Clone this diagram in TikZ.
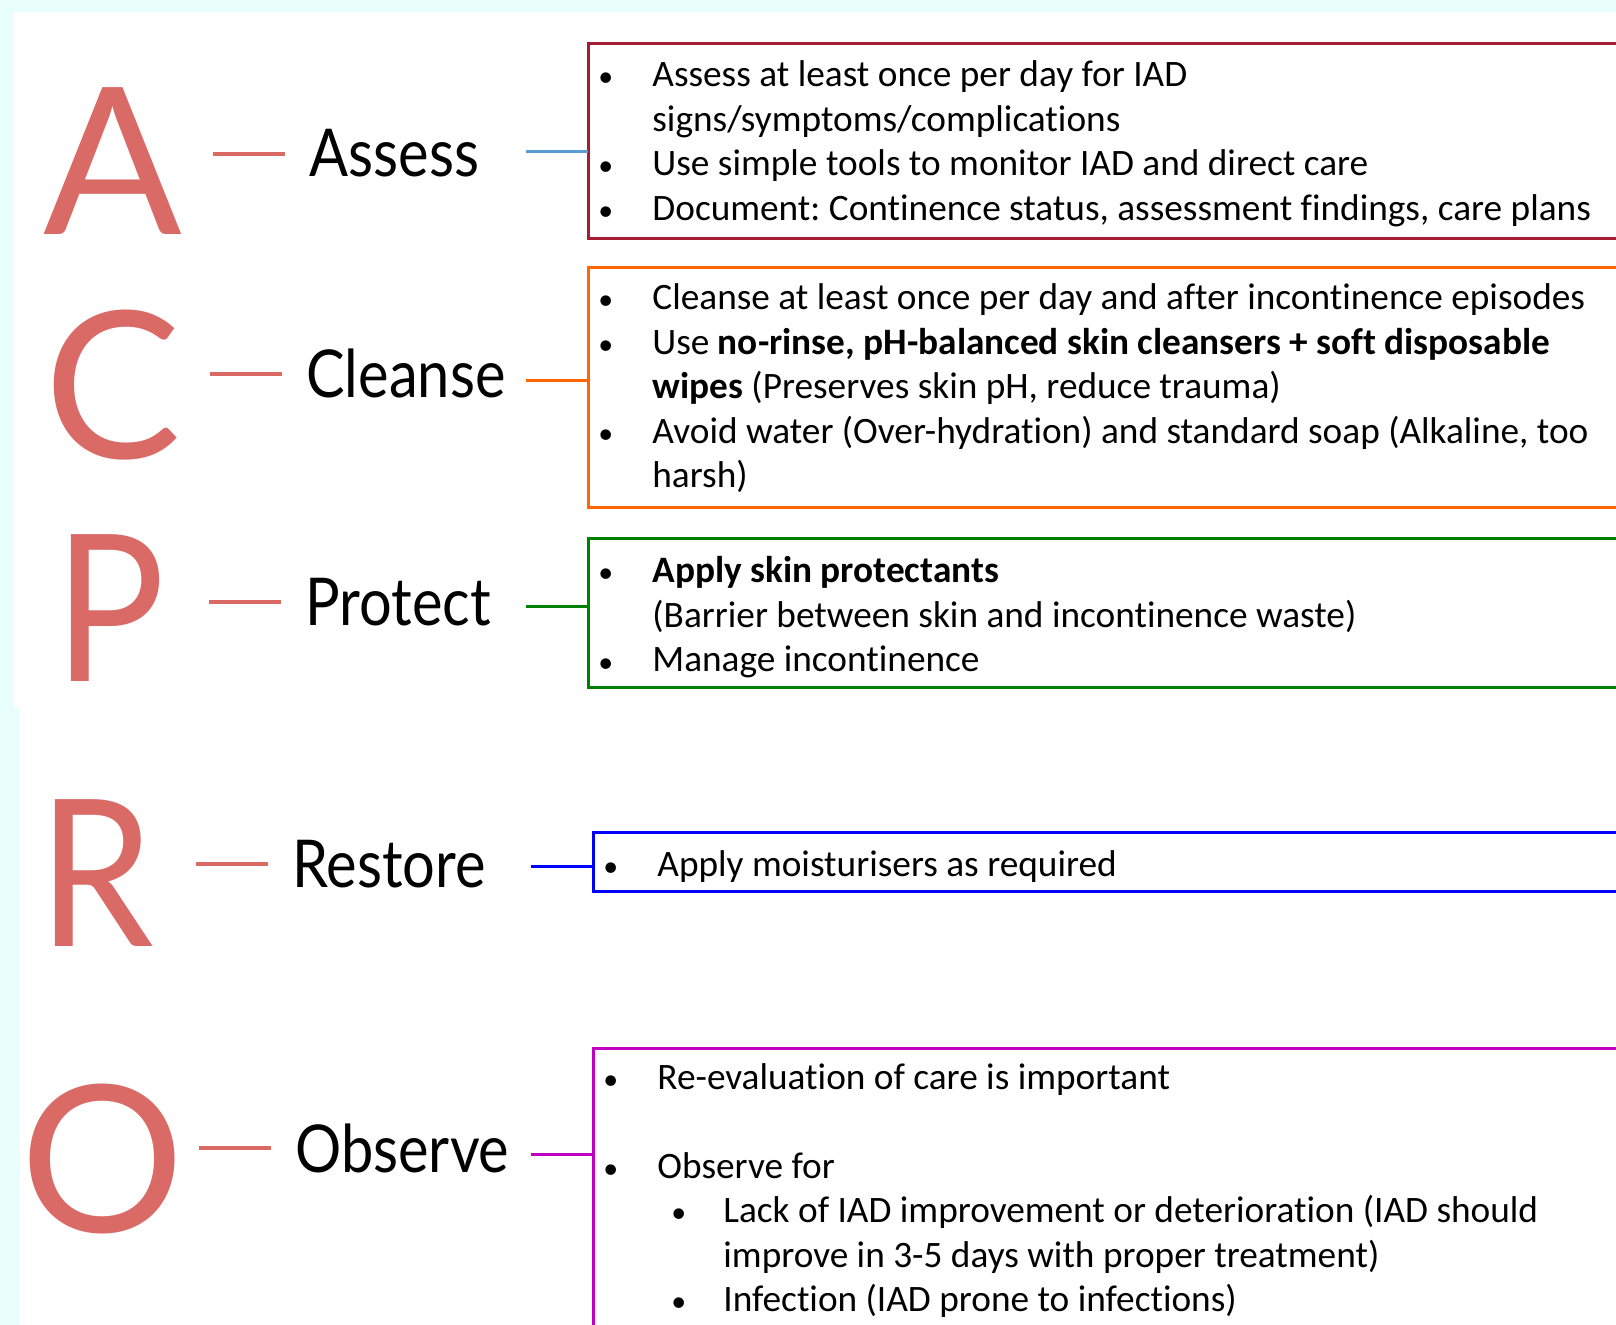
\documentclass[tikz,border=0pt]{standalone}
\usepackage{fontspec}
\setmainfont{Carlito}[Ligatures=NoCommon]
\newfontfamily\acrofont{Lato}[Ligatures=NoCommon]
\newfontfamily\acronarrow{Lato}[FakeStretch=0.9]
\newfontfamily\labelfont{Lato}[FakeStretch=0.875,Ligatures=NoCommon]
\usepackage{tikz}
\usetikzlibrary{calc,positioning}
\usepackage{xcolor}
\definecolor{PaleMint}{RGB}{233,255,252}
\definecolor{Salmon}{RGB}{217,106,101}
\definecolor{BoxCrimson}{RGB}{166,28,52}
\definecolor{BoxOrange}{RGB}{255,102,0}
\definecolor{BoxGreen}{RGB}{0,128,0}
\definecolor{BoxBlue}{RGB}{0,0,255}
\definecolor{BoxMagenta}{RGB}{192,0,192}
\definecolor{SkyLink}{RGB}{91,155,213}
\newcommand{\bul}{\makebox[32pt][l]{\hspace*{5pt}\scalebox{0.8}{\textbullet}}}
\newcommand{\ind}{\hspace*{32pt}}
\newcommand{\subbul}{\hspace*{39pt}\makebox[26pt][l]{\scalebox{0.8}{\textbullet}}}
\newcommand{\subind}{\hspace*{65pt}}
\frenchspacing

\begin{document}
\begin{tikzpicture}[x=0.5pt, y=-0.5pt,
  bigletter/.style={font=\acrofont\fontsize{102.5}{110}\selectfont, text=Salmon, inner sep=0pt, anchor=base},
  steplabel/.style={font=\labelfont\fontsize{33}{36}\selectfont, inner sep=0pt, anchor=base west},
  infobox/.style={draw=#1, line width=1.5pt, inner sep=0pt, outer sep=0pt, minimum width=560pt, anchor=north west},
  infotext/.style={font=\fontsize{18.65}{22.25}\selectfont, inner sep=0pt, anchor=base west},
  accent/.style={Salmon, line width=2pt},
  link/.style={line width=1.5pt}]
\useasboundingbox (0,0) rectangle (1616,1325);
\clip (0,0) rectangle (1616,1325);
% page background
\fill[PaleMint] (0,0) rectangle (1616,1325);
\fill[white] (14,12) -| (1616,1325) -| (20,707) -- (14,707) -- cycle;

% acronym letters
\node[bigletter] (letA) at (113,235) {A};
\node[bigletter] (letC) at (113,459) {C};
\node[bigletter, font=\acronarrow\fontsize{102.5}{110}\selectfont] (letP) at (110,682) {P};
\node[bigletter, font=\acronarrow\fontsize{102.5}{110}\selectfont] (letR) at (96,946) {R};
\node[bigletter] (letO) at (103,1232) {O};

% step names
\node[steplabel] (lblA) at (309,177) {Assess};
\node[steplabel] (lblC) at (306,398) {Cleanse};
\node[steplabel] (lblP) at (305,625) {Protect};
\node[steplabel] (lblR) at (292,887) {Restore};
\node[steplabel] (lblO) at (295,1172) {Observe};

\draw[accent] ([xshift=-12pt]lblA.west) -- ++(-72,0);
\draw[accent] ([xshift=-12pt]lblC.west) -- ++(-72,0);
\draw[accent] ([xshift=-12pt]lblP.west) -- ++(-72,0);
\draw[accent] ([xshift=-12pt]lblR.west) -- ++(-72,0);
\draw[accent] ([xshift=-12pt]lblO.west) -- ++(-72,0);

% boxes
\node[infobox=BoxCrimson, minimum height=97.5pt] (boxA) at (588,44) {};
\node[infobox=BoxOrange, minimum height=120pt] (boxC) at (588,268) {};
\node[infobox=BoxGreen, minimum height=74.5pt] (boxP) at (588,539) {};
\node[infobox=BoxBlue, minimum height=29.5pt] (boxR) at (593,832) {};
\node[infobox=BoxMagenta, minimum height=200pt] (boxO) at (593,1048) {};

\coordinate (inA) at (526,152);
\coordinate (inC) at (526,381);
\coordinate (inP) at (526,607);
\coordinate (inR) at (531,866);
\coordinate (inO) at (531,1154);
\draw[link, SkyLink] (inA) -- (inA -| boxA.west);
\draw[link, BoxOrange] (inC) -- (inC -| boxC.west);
\draw[link, BoxGreen] (inP) -- (inP -| boxP.west);
\draw[link, BoxBlue] (inR) -- (inR -| boxR.west);
\draw[link, BoxMagenta] (inO) -- (inO -| boxO.west);

% box texts
\node[infotext] (txtA) at ($(boxA.north west)+(0,43)$) {\begin{tabular}[t]{@{}l@{}}
\bul Assess at least once per day for IAD\\
\ind signs/symptoms/complications\\
\bul Use simple tools to monitor IAD and direct care\\
\bul Document: Continence status, assessment findings, care plans
\end{tabular}};
\node[infotext] (txtC) at ($(boxC.north west)+(0,42)$) {\begin{tabular}[t]{@{}l@{}}
\bul Cleanse at least once per day and after incontinence episodes\\
\bul Use \textbf{no-rinse, pH-balanced skin cleansers + soft disposable}\\
\ind\textbf{wipes} (Preserves skin pH, reduce trauma)\\
\bul Avoid water (Over-hydration) and standard soap (Alkaline, too\\
\ind harsh)
\end{tabular}};
\node[infotext] (txtP) at ($(boxP.north west)+(0,44)$) {\begin{tabular}[t]{@{}l@{}}
\bul \textbf{Apply skin protectants}\\
\ind (Barrier between skin and incontinence waste)\\
\bul Manage incontinence
\end{tabular}};
\node[infotext] (txtR) at ($(boxR.north west)+(0,44)$) {\bul Apply moisturisers as required};
\node[infotext] (txtO) at ($(boxO.north west)+(0,41)$) {\begin{tabular}[t]{@{}l@{}}
\bul Re-evaluation of care is important\\
\\
\bul Observe for\\
\subbul Lack of IAD improvement or deterioration (IAD should\\
\subind improve in 3-5 days with proper treatment)\\
\subbul Infection (IAD prone to infections)
\end{tabular}};
\end{tikzpicture}
\end{document}
